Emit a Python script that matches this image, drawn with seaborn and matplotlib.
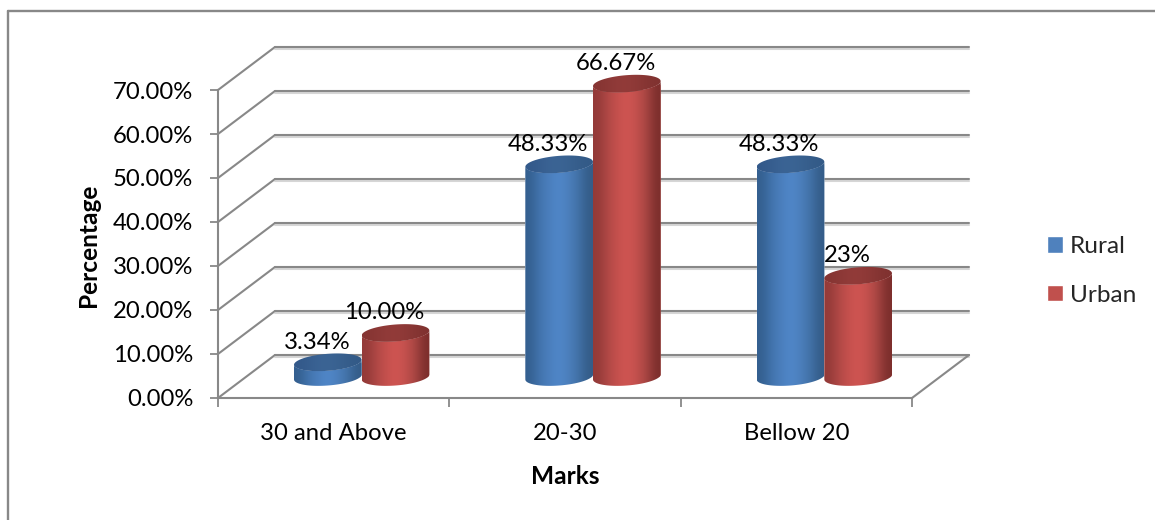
import matplotlib
matplotlib.use("Agg")
import matplotlib.pyplot as plt
import matplotlib.patheffects as pe
from matplotlib.lines import Line2D
from matplotlib.patches import PathPatch
from matplotlib.path import Path
from matplotlib.ticker import FuncFormatter
from matplotlib import transforms
import numpy as np
import pandas as pd
import seaborn as sns

categories = ["30 and Above", "20-30", "Bellow 20"]
rural = [3.34, 48.33, 48.33]
urban = [10.00, 66.67, 23.00]
rural_labels = ["3.34%", "48.33%", "48.33%"]
urban_labels = ["10.00%", "66.67%", "23%"]
y_ticks = [0, 10, 20, 30, 40, 50, 60, 70]

W, H, DPI = 1155, 520, 100
GRID = "#888888"
FONT = "Lato"
FS = 17.2
FS_BOLD = 17.6
FS_LEGEND = 17.6

# left-to-right shading of each cylinder wall and of its top cap
WALL = {
    "Rural": ["#345f8f", "#4274ae", "#4b7fbd", "#5088ca", "#4c7fbc", "#4272a8", "#345c88"],
    "Urban": ["#933a38", "#b04846", "#c5504d", "#d15653", "#c3504d", "#a84643", "#7c2e2c"],
}
CAP = {
    "Rural": ["#33598a", "#3c6596", "#3a6392", "#335a87"],
    "Urban": ["#863533", "#933c3a", "#903a38", "#803230"],
}

sns.set_style("white")
plt.rcParams["font.family"] = [FONT, "DejaVu Sans"]

fig = plt.figure(figsize=(W / DPI, H / DPI), dpi=DPI, facecolor="white")
ax = fig.add_axes([218 / W, (H - 398) / H, 694 / W, 308 / H])

# outer chart frame: only the top and left edges are visible
fig.add_artist(Line2D([7.5 / W, 7.5 / W], [0, (H - 11) / H], color=GRID, lw=1.7))
fig.add_artist(Line2D([7.5 / W, 1], [(H - 11) / H, (H - 11) / H], color=GRID, lw=1.7))

df = pd.DataFrame({
    "Marks": categories * 2,
    "Percentage": rural + urban,
    "Series": ["Rural"] * 3 + ["Urban"] * 3,
})
sns.barplot(data=df, x="Marks", y="Percentage", hue="Series",
            palette=["#4F81BD", "#C0504D"], saturation=1,
            width=0.585, gap=0, ax=ax, zorder=3)
ax.set_xlim(-0.5, 2.5)
ax.set_ylim(0, 70)

# depth of the floor and back wall, in axis units
depth_x = 57 / (694 / 3)
depth_y = 43 / (308 / 70)

shadow = [pe.SimpleLineShadow(offset=(0, -1.3), shadow_color="#bbbbbb", alpha=0.6), pe.Normal()]
line_kw = dict(color=GRID, lw=1.5, clip_on=False, zorder=1, solid_capstyle="round")
for v in y_ticks:
    ax.plot([-0.5, -0.5 + depth_x], [v, v + depth_y], **line_kw)
    ax.plot([-0.5 + depth_x, 2.5 + depth_x], [v + depth_y, v + depth_y],
            path_effects=shadow, **line_kw)
ax.plot([2.5, 2.5 + depth_x], [0, depth_y], **line_kw)

for side in ("top", "right"):
    ax.spines[side].set_visible(False)
for side in ("left", "bottom"):
    ax.spines[side].set_color(GRID)
    ax.spines[side].set_linewidth(1.5)

ax.set_yticks(y_ticks)
ax.yaxis.set_major_formatter(FuncFormatter(lambda v, _: f"{v:.2f}%"))
ax.tick_params(axis="y", left=True, length=5.8, width=1.3, color=GRID, pad=12,
               labelsize=FS, labelcolor="black")
ax.set_xticks([-0.5, 0.5, 1.5, 2.5], minor=True)
ax.tick_params(axis="x", which="minor", bottom=True, length=6.5, width=1.3, color=GRID)
ax.tick_params(axis="x", which="major", length=0, pad=17.7, labelsize=FS, labelcolor="black")

ax.set_xlabel("Marks", fontsize=FS_BOLD, fontweight="bold", color="black")
ax.set_ylabel("Percentage", fontsize=FS_BOLD, fontweight="bold", color="black")
ax.xaxis.set_label_coords((565 - 218) / 694, -(477 - 398) / 308, transform=ax.transAxes)
ax.yaxis.set_label_coords((89 - 218) / 694, (398 - 245) / 308, transform=ax.transAxes)
ax.xaxis.label.set_verticalalignment("center")
ax.yaxis.label.set_verticalalignment("center")

# cylinders stand mid-way across the floor
lift = transforms.ScaledTranslation(28 / DPI, 21 / DPI, fig.dpi_scale_trans)
bar_trans = ax.transData + lift
px_y = 70 / 308
cap_half = 8.5 * px_y
cap_tilt = 2.5 * px_y


def arc(xc, half, yc, start, stop):
    t = np.linspace(start, stop, 80)
    return np.column_stack([xc + half * np.cos(t),
                            yc + cap_half * np.sin(t) + cap_tilt * np.cos(t)])


def paint(stops, path, extent, z):
    clip = PathPatch(path, transform=bar_trans, facecolor="none", edgecolor="none")
    rgb = np.array([matplotlib.colors.to_rgb(c) for c in stops])[None, :, :]
    im = ax.imshow(rgb, extent=extent, aspect="auto", interpolation="bicubic", zorder=z)
    im.set_transform(bar_trans)
    im.set_clip_path(clip)
    im.set_clip_box(fig.bbox)


series_names = ["Rural", "Urban"]
series_labels = [rural_labels, urban_labels]
for s, container in enumerate(ax.containers):
    name = series_names[s]
    z = 3 + s
    for b, bar in enumerate(container):
        half = bar.get_width() / 2
        xc = bar.get_x() + half
        value = bar.get_height()
        outline = np.vstack([arc(xc, half, 0, np.pi, 2 * np.pi),
                             arc(xc, half, value, 2 * np.pi, np.pi)])
        body = Path(np.vstack([outline, outline[0]]), closed=True)
        clip = PathPatch(body, transform=bar_trans, facecolor="none", edgecolor="none")
        bar.set_transform(bar_trans)
        bar.set_clip_path(clip)
        bar.set_clip_box(fig.bbox)
        bar.set_zorder(z)
        extent = [xc - half, xc + half, -3, value + 3]
        paint(WALL[name], body, extent, z + 0.1)
        cap = arc(xc, half, value, 0, 2 * np.pi)
        paint(CAP[name], Path(cap, closed=True),
              [xc - half, xc + half, value - 4, value + 4], z + 0.2)
        ax.annotate(series_labels[s][b], xy=(xc, value), xycoords=bar_trans,
                    xytext=(-8.0, 14.5), textcoords="offset points",
                    ha="center", va="center", fontsize=FS, color="black", zorder=10,
                    annotation_clip=False)

ax.set_xlim(-0.5, 2.5)
ax.set_ylim(0, 70)

sns.move_legend(ax, loc="center left", bbox_to_anchor=(1047 / W, (H - 271) / H),
                bbox_transform=fig.transFigure, frameon=False, title=None,
                fontsize=FS_LEGEND, handlelength=0.66, handleheight=0.66,
                handletextpad=0.27, labelspacing=1.12, borderpad=0, borderaxespad=0)

fig.savefig("out.png", dpi=DPI)
